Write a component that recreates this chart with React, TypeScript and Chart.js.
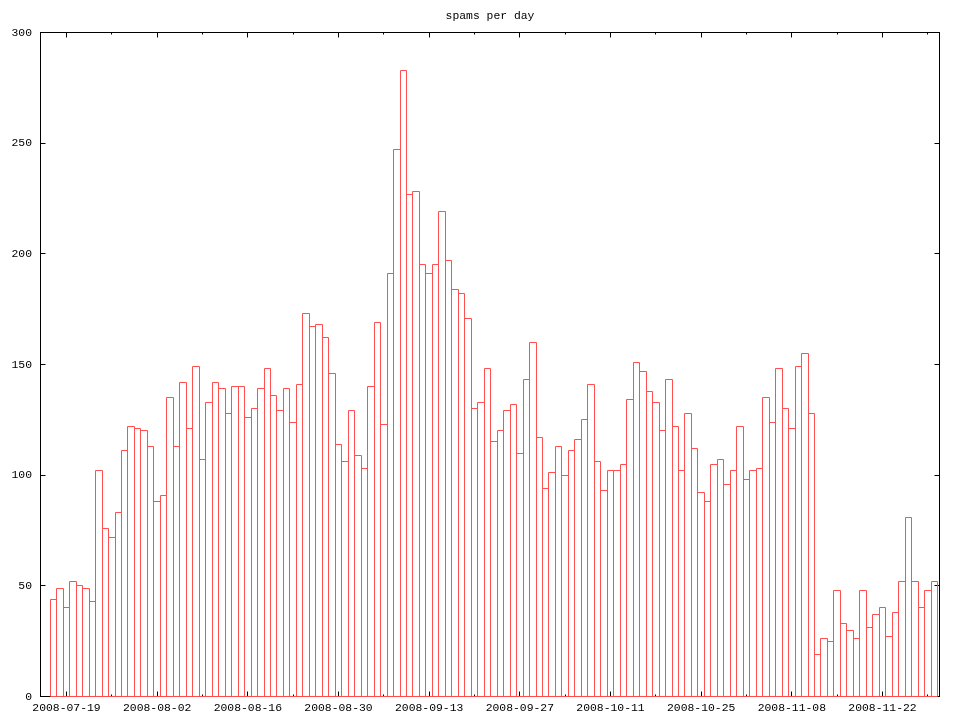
import React, { useEffect, useRef } from 'react';
import { Chart, registerables } from 'chart.js';

Chart.register(...registerables);

const TITLE = 'spams per day';
const FIRST_DAY = '2008-07-17';
const REF_DAY = '2008-07-19';

const spamsPerDay = [
  44, 49, 40, 52, 50, 49, 43, 102, 76, 72, 83, 111, 122, 121, 120, 113,
  88, 91, 135, 113, 142, 121, 149, 107, 133, 142, 139, 128, 140, 140, 126, 130,
  139, 148, 136, 129, 139, 124, 141, 173, 167, 168, 162, 146, 114, 106, 129, 109,
  103, 140, 169, 123, 191, 247, 283, 227, 228, 195, 191, 195, 219, 197, 184, 182,
  171, 130, 133, 148, 115, 120, 129, 132, 110, 143, 160, 117, 94, 101, 113, 100,
  111, 116, 125, 141, 106, 93, 102, 102, 105, 134, 151, 147, 138, 133, 120, 143,
  122, 102, 128, 112, 92, 88, 105, 107, 96, 102, 122, 98, 102, 103, 135, 124,
  148, 130, 121, 149, 155, 128, 19, 26, 25, 48, 33, 30, 26, 48, 31, 37,
  40, 27, 38, 52, 81, 52, 40, 48, 52,
];

const xTickLabels = [
  '2008-07-19', '2008-08-02', '2008-08-16', '2008-08-30', '2008-09-13',
  '2008-09-27', '2008-10-11', '2008-10-25', '2008-11-08', '2008-11-22',
];
const yTickValues = [0, 50, 100, 150, 200, 250, 300];

const X_MIN = -4.01;
const X_MAX = 134.8;
const BOX_COLOR = '#ff4f4f';
const FONT_FAMILY = '"Liberation Mono", "DejaVu Sans Mono", monospace';
const FONT_SIZE = 11.4;

const DAY_MS = 86400000;
const dayOffset = (s: string) => Math.round((Date.parse(s) - Date.parse(REF_DAY)) / DAY_MS);
const firstOffset = dayOffset(FIRST_DAY);

const majorOffsets = xTickLabels.map(dayOffset);
const labelByOffset = new Map<number, string>(xTickLabels.map((l) => [dayOffset(l), l]));
const xTickValues: number[] = [];
majorOffsets.forEach((o) => {
  xTickValues.push(o);
  if (o + 7 <= X_MAX) xTickValues.push(o + 7);
});

const frameTicks = {
  id: 'frameTicks',
  beforeDatasetsDraw(chart: any) {
    const { ctx, chartArea: a, scales } = chart;
    const xs = scales.x;
    const ys = scales.y;
    ctx.save();
    ctx.strokeStyle = '#000';
    ctx.lineWidth = 1;
    ctx.strokeRect(a.left, a.top, a.right - a.left, a.bottom - a.top);
    ctx.beginPath();
    xs.ticks.forEach((t: any) => {
      const px = Math.round(xs.getPixelForValue(t.value) - 0.5) + 0.5;
      const len = labelByOffset.has(t.value) ? 5 : 2;
      ctx.moveTo(px, a.bottom);
      ctx.lineTo(px, a.bottom - len);
      ctx.moveTo(px, a.top);
      ctx.lineTo(px, a.top + len);
    });
    ys.ticks.forEach((t: any) => {
      const py = Math.round(ys.getPixelForValue(t.value) - 0.5) + 0.5;
      ctx.moveTo(a.left, py);
      ctx.lineTo(a.left + 5, py);
      ctx.moveTo(a.right, py);
      ctx.lineTo(a.right - 5, py);
    });
    ctx.stroke();
    ctx.restore();
  },
};

const boxOutline = {
  id: 'boxOutline',
  afterDatasetsDraw(chart: any) {
    const { ctx } = chart;
    const meta = chart.getDatasetMeta(0);
    ctx.save();
    ctx.strokeStyle = BOX_COLOR;
    ctx.lineWidth = 1;
    ctx.beginPath();
    meta.data.forEach((el: any) => {
      const { x, y, base, width } = el.getProps(['x', 'y', 'base', 'width'], true);
      const l = Math.round(x - width / 2 - 0.5) + 0.5;
      const r = Math.round(x + width / 2 - 0.5) + 0.5;
      const t = Math.round(y - 0.5) + 0.5;
      const b = Math.round(base - 0.5) + 0.5;
      ctx.rect(l, t, r - l, b - t);
    });
    ctx.stroke();
    ctx.restore();
  },
};

export default function App() {
  const canvasRef = useRef<HTMLCanvasElement | null>(null);

  useEffect(() => {
    document.body.style.margin = '0';
    const canvas = canvasRef.current;
    if (!canvas) return;
    const data = spamsPerDay.map((v, i) => ({ x: firstOffset + i, y: v }));
    const chart = new Chart(canvas, {
      type: 'bar',
      data: {
        datasets: [
          {
            label: TITLE,
            data: data as any,
            backgroundColor: 'rgba(0,0,0,0)',
            borderColor: BOX_COLOR,
            borderWidth: 0,
            barPercentage: 1,
            categoryPercentage: 1,
          },
        ],
      },
      options: {
        responsive: false,
        animation: false,
        devicePixelRatio: 1,
        layout: { padding: { top: 0, right: 20.5, bottom: 0, left: 0 } },
        plugins: {
          legend: { display: false },
          tooltip: { enabled: false },
          title: {
            display: true,
            fullSize: false,
            text: TITLE,
            color: '#000',
            font: { family: FONT_FAMILY, size: FONT_SIZE, weight: 'normal' as any, lineHeight: 1.2 },
            padding: { top: 9.41, bottom: 9.41 },
          },
        },
        scales: {
          x: {
            type: 'linear',
            min: X_MIN,
            max: X_MAX,
            offset: false,
            grid: { display: false, drawTicks: false },
            border: { display: false },
            afterBuildTicks: (scale: any) => {
              scale.ticks = xTickValues.map((v) => ({ value: v }));
            },
            afterFit: (scale: any) => {
              scale.height = 23.5;
            },
            ticks: {
              autoSkip: false,
              maxRotation: 0,
              minRotation: 0,
              padding: 5,
              color: '#000',
              font: { family: FONT_FAMILY, size: FONT_SIZE },
              callback: (v: any) => labelByOffset.get(Number(v)) ?? '',
            },
          },
          y: {
            min: 0,
            max: 300,
            grid: { display: false, drawTicks: false },
            border: { display: false },
            afterBuildTicks: (scale: any) => {
              scale.ticks = yTickValues.map((v) => ({ value: v }));
            },
            afterFit: (scale: any) => {
              scale.width = 40.5;
            },
            ticks: {
              padding: 8.5,
              color: '#000',
              font: { family: FONT_FAMILY, size: FONT_SIZE },
              callback: (v: any) => String(v),
            },
          },
        },
      },
      plugins: [frameTicks, boxOutline],
    });
    return () => chart.destroy();
  }, []);

  return (
    <div style={{ width: 960, height: 720, background: '#fff' }}>
      <canvas ref={canvasRef} width={960} height={720} style={{ display: 'block' }} />
    </div>
  );
}
